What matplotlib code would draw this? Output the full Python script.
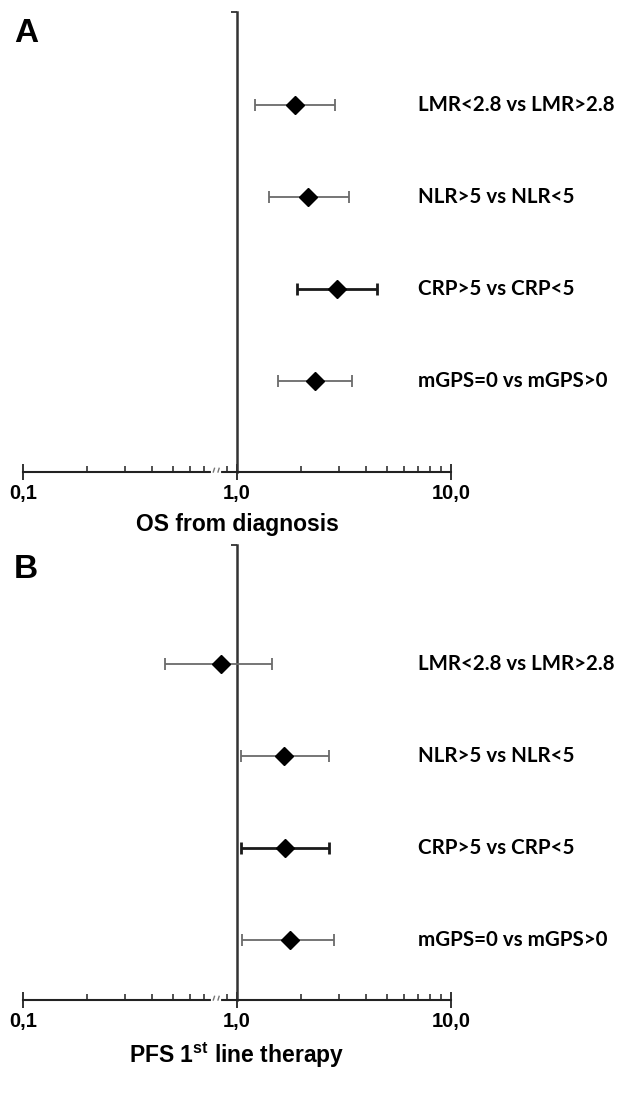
import matplotlib
matplotlib.use("Agg")
import matplotlib.pyplot as plt
import matplotlib.transforms as mtransforms
from matplotlib.ticker import FixedLocator, FixedFormatter, NullFormatter

plt.rcParams['mathtext.fontset'] = 'custom'
plt.rcParams['mathtext.rm'] = 'Liberation Sans'
plt.rcParams['mathtext.bf'] = 'Liberation Sans:bold'

# ---------------- data ----------------
labels = ["LMR<2.8 vs LMR>2.8", "NLR>5 vs NLR<5", "CRP>5 vs CRP<5", "mGPS=0 vs mGPS>0"]

os_hr = [1.87, 2.15, 2.92, 2.31]
os_lo = [1.21, 1.41, 1.91, 1.56]
os_hi = [2.88, 3.35, 4.53, 3.43]

pfs_hr = [0.84, 1.65, 1.67, 1.76]
pfs_lo = [0.46, 1.04, 1.04, 1.06]
pfs_hi = [1.45, 2.70, 2.70, 2.85]

major_ticks = [0.1, 1, 10]
major_labels = ["0,1", "1,0", "10,0"]
minor_ticks = [0.2, 0.3, 0.4, 0.5, 0.6, 0.7, 0.9, 2, 3, 4, 5, 6, 7, 8, 9]

titles = ["OS from diagnosis", r"PFS 1$^{\mathbf{st}}$ line therapy"]
letters = ["A", "B"]

W, H = 632, 1098
fig = plt.figure(figsize=(W / 100, H / 100), dpi=100)

LABEL_X = 418
SPACING = 92.0


def panel(top_px, bottom_px, first_row_px, hr, lo, hi, title, letter, letter_base_px):
    left_px, right_px = 23, 451
    ax = fig.add_axes([left_px / W, 1 - bottom_px / H,
                       (right_px - left_px) / W, (bottom_px - top_px) / H])
    ax.set_xscale('log')
    ax.set_xlim(0.1, 10)
    ytop = -(first_row_px - top_px) / SPACING
    ybot = (bottom_px - first_row_px) / SPACING
    ax.set_ylim(ybot, ytop)

    for i in range(len(hr)):
        thick = labels[i].startswith("CRP")
        col = "#1a1a1a" if thick else "#6a6a6a"
        lw = 2.0 if thick else 1.3
        ax.errorbar([hr[i]], [i], xerr=[[hr[i] - lo[i]], [hi[i] - hr[i]]],
                    fmt='none', ecolor=col, elinewidth=lw, capsize=4.2,
                    capthick=lw, zorder=3)
    ax.plot(hr, range(len(hr)), linestyle='none', marker='D', color='black',
            markersize=9.5, zorder=4)

    ax.spines['top'].set_visible(False)
    ax.spines['right'].set_visible(False)
    ax.spines['left'].set_position(('data', 1))
    ax.spines['left'].set_color('#333333')
    ax.spines['left'].set_linewidth(1.8)
    ax.spines['bottom'].set_color('#222222')
    ax.spines['bottom'].set_linewidth(1.5)

    ax.set_yticks([ytop])
    ax.set_yticklabels([])
    ax.tick_params(axis='y', length=4, width=1.3, color='#333333', direction='out')

    ax.xaxis.set_major_locator(FixedLocator(major_ticks))
    ax.xaxis.set_major_formatter(FixedFormatter(major_labels))
    ax.xaxis.set_minor_locator(FixedLocator(minor_ticks))
    ax.xaxis.set_minor_formatter(NullFormatter())
    ax.tick_params(axis='x', which='major', direction='inout', length=11, width=1.3,
                   color='#222222', pad=3)
    ax.tick_params(axis='x', which='minor', direction='in', length=4.5, width=1.1,
                   color='#222222')
    for t in ax.get_xticklabels():
        t.set_fontfamily('Liberation Sans')
        t.set_fontweight('bold')
        t.set_fontsize(14.5)

    # axis break near 0.8
    tr = mtransforms.blended_transform_factory(ax.transData, ax.transAxes)
    ax.plot([0.775, 0.825], [0, 0], color='white', lw=3, transform=tr,
            clip_on=False, zorder=6)
    ax.plot([0.775, 0.785], [0.0, 0.008], color='#777777', lw=1, transform=tr,
            clip_on=False, zorder=7)
    ax.plot([0.815, 0.825], [0.0, 0.008], color='#777777', lw=1, transform=tr,
            clip_on=False, zorder=7)

    ax.set_xlabel(title, fontfamily='Liberation Sans', fontweight='bold',
                  fontsize=16.5, labelpad=7)

    trl = mtransforms.blended_transform_factory(fig.transFigure, ax.transData)
    for i, lab in enumerate(labels):
        ax.text(LABEL_X / W, i, lab, transform=trl, ha='left', va='center',
                fontfamily='Lato', fontweight='bold', fontsize=14.8, color='black')

    fig.text(14 / W, 1 - letter_base_px / H, letter, ha='left', va='baseline',
             fontfamily='Liberation Sans', fontweight='bold', fontsize=24)
    return ax


panel(12, 472, 104.7, os_hr, os_lo, os_hi, titles[0], letters[0], 42)
panel(545, 1000, 664, pfs_hr, pfs_lo, pfs_hi, titles[1], letters[1], 578)

fig.savefig("out.png", dpi=100, facecolor='white')
